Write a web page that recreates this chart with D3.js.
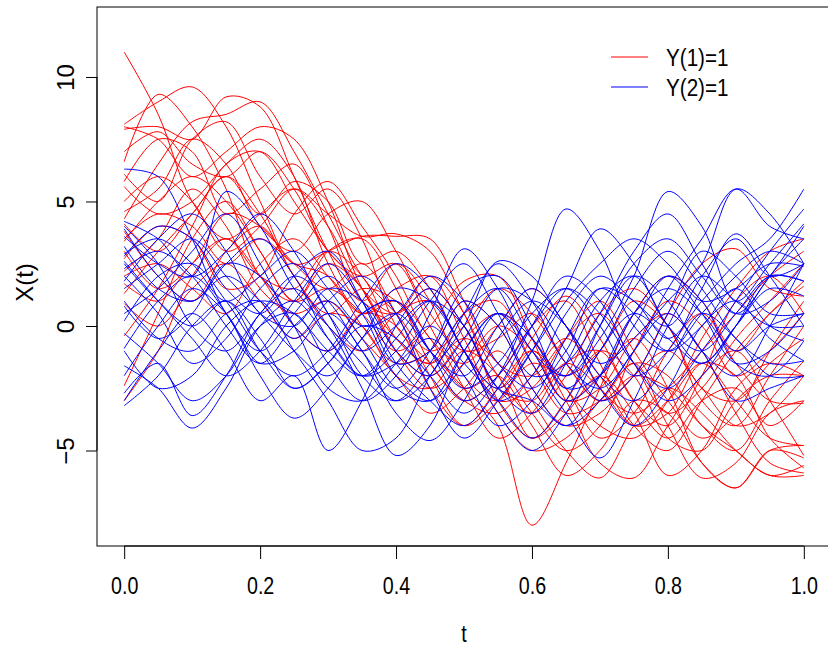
<!DOCTYPE html>
<html>
<head>
<meta charset="utf-8">
<script src="https://cdn.jsdelivr.net/npm/d3@7"></script>
<style>
    body { margin: 0; background: #fff; }
    svg { display: block; font-family: "Liberation Sans", Arial, sans-serif; }
</style>
</head>
<body>
<div id="chart"></div>
<script>
// sample grid of t used for every curve
const tValues = d3.range(0, 21).map(i => i / 20);

const xTicks = [0, 0.2, 0.4, 0.6, 0.8, 1.0];
const yTicks = [-5, 0, 5, 10];
const legendLabels = ["Y(1)=1", "Y(2)=1"];

// curves of group Y(1)=1 (red), values read at t = 0, 0.05, ..., 1
const redSeries = [
    [11.0, 8.5, 5.0, 3.5, 4.5, 5.5, 4.0, 1.5, 0.5, 1.5, 0.0, -2.5, -3.0, -1.5, -2.5, -4.0, -3.0, -1.5, -3.0, -4.5, -4.8],
    [8.1, 9.0, 9.6, 8.0, 5.0, 2.5, 3.0, 3.6, 3.6, 3.5, 1.0, -1.5, -2.0, -0.5, 0.5, -1.5, -3.5, -2.5, -0.5, 1.0, 2.5],
    [7.9, 8.0, 7.5, 9.2, 8.8, 6.0, 3.0, 1.0, 2.5, 1.0, -2.0, -3.0, -1.0, -2.5, -4.5, -3.5, -1.0, 0.5, -1.5, -3.0, -3.1],
    [6.6, 9.3, 8.0, 5.5, 2.0, 1.0, 2.5, 1.5, -1.0, -2.5, -1.5, 0.0, -1.0, -3.0, -2.5, -0.5, 0.5, -1.0, -3.5, -5.5, -5.9],
    [6.1, 5.0, 7.5, 8.2, 6.0, 4.5, 5.5, 3.5, 0.0, -1.5, -3.0, -2.0, 0.0, 1.0, -1.5, -4.0, -5.0, -3.0, -1.0, 0.5, 1.8],
    [5.8, 7.5, 7.0, 4.5, 5.5, 6.5, 4.0, 1.0, 0.5, 2.0, 0.5, -3.0, -4.5, -3.5, -2.0, -3.5, -6.0, -5.0, -2.5, -1.5, -2.0],
    [5.6, 4.5, 5.0, 6.5, 7.5, 6.0, 2.5, 0.5, 1.0, -0.5, -2.5, -2.0, -4.0, -6.0, -5.0, -3.0, -3.5, -5.5, -6.5, -5.0, -5.3],
    [4.3, 6.5, 8.2, 8.5, 9.0, 7.0, 4.5, 2.0, 0.5, -1.0, 0.0, 1.5, 0.5, -1.5, -3.0, -2.0, 0.5, 2.5, 3.1, 1.5, 1.2],
    [4.1, 3.0, 4.5, 6.0, 4.5, 5.8, 5.0, 2.5, 3.0, 1.5, -1.0, -2.5, -0.5, 1.2, -0.5, -3.0, -4.5, -3.0, -2.5, -4.0, -3.0],
    [3.8, 2.0, 1.0, 3.0, 4.0, 2.0, 0.0, -1.0, 0.5, 1.0, -1.0, -3.5, -5.0, -4.5, -3.0, -1.5, -2.0, -4.0, -5.0, -3.0, -1.4],
    [3.4, 5.0, 6.0, 5.0, 3.0, 1.0, 3.0, 3.5, 1.5, -1.5, -3.0, -3.5, -2.0, -0.5, -2.0, -4.0, -3.5, -1.5, -2.0, -4.5, -5.7],
    [3.0, 1.5, 2.5, 4.5, 4.0, 2.5, 1.5, 2.5, 0.5, -2.0, -4.0, -3.0, -1.5, -2.0, -1.0, 1.0, 0.0, -3.0, -4.0, -2.0, 0.0],
    [2.7, 4.0, 3.5, 1.5, 2.0, 4.5, 5.8, 4.0, 2.0, -0.5, -1.5, 0.0, 1.5, 0.0, -2.5, -3.5, -2.5, -1.0, 0.5, 2.0, 3.0],
    [2.2, 3.5, 5.5, 4.0, 1.5, 0.5, 1.0, -0.5, -2.0, -3.5, -2.5, -1.0, -3.0, -5.0, -6.1, -4.0, -2.5, -3.5, -5.0, -6.0, -6.0],
    [1.7, 1.0, 2.5, 3.5, 2.0, 1.5, 3.0, 2.0, -0.5, -1.5, 0.5, 1.0, -1.5, -3.5, -3.0, -1.5, -4.0, -6.1, -5.5, -3.5, -3.0],
    [1.3, 3.0, 4.5, 6.0, 4.5, 2.0, 0.5, 1.5, 1.0, -1.0, -2.5, -4.0, -8.0, -5.5, -2.5, 0.5, 2.0, 1.0, -1.0, 0.5, 1.6],
    [0.9, 0.0, 1.5, 2.5, 1.0, -0.5, 0.5, 0.0, -2.0, -2.5, -1.0, -2.0, -4.5, -3.0, -1.0, -2.0, -4.5, -5.0, -3.0, -2.0, -2.0],
    [-0.4, 1.5, 4.0, 6.5, 7.0, 5.0, 3.0, 1.5, -1.0, -2.0, -0.5, 0.5, -0.5, -2.5, -4.0, -4.5, -3.0, -0.5, 1.5, 3.0, 3.5],
    [-2.4, 0.5, 3.5, 5.0, 3.0, 1.0, 1.5, 0.5, -1.0, 0.0, 1.8, 2.0, -0.5, -3.0, -2.0, -0.5, -2.5, -5.5, -6.5, -5.0, -4.8],
    [-3.0, -1.0, 2.0, 3.5, 2.0, 0.0, -1.0, 0.5, 0.0, -2.5, -4.0, -2.5, -1.0, -3.0, -5.5, -6.1, -4.0, -2.0, -1.0, -3.0, -5.2],
    [5.0, 6.0, 5.0, 3.0, 4.0, 5.5, 4.5, 3.6, 3.7, 3.0, 0.5, -2.0, -3.5, -2.0, 0.5, 1.5, 0.0, -2.5, -3.0, -1.5, -0.5],
    [7.0, 7.8, 6.5, 6.0, 7.0, 5.5, 3.0, 2.0, 2.5, 0.0, -2.5, -4.5, -3.5, -1.5, -1.0, -3.0, -4.0, -2.0, 1.0, 2.0, 0.5],
    [3.5, 4.5, 4.0, 2.5, 3.5, 2.5, 2.0, 0.0, -1.5, -1.0, 1.0, 0.0, -2.5, -4.0, -3.5, -2.0, -1.0, -2.5, -4.0, -3.5, -2.0],
    [8.0, 7.5, 6.0, 7.0, 8.0, 7.5, 5.0, 1.5, -0.5, -1.5, -0.5, -1.5, -3.5, -5.0, -4.0, -1.0, 1.0, 0.0, -2.0, -1.0, 0.5],
    [2.0, 2.5, 1.5, 0.5, 2.5, 3.5, 2.0, 0.5, 1.5, 2.0, -0.5, -3.0, -2.5, -0.5, 1.0, -1.0, -3.0, -4.5, -3.5, -1.0, 1.0],
    [4.6, 5.5, 7.5, 6.5, 4.0, 3.0, 4.5, 5.0, 3.0, 0.5, -1.0, -0.5, 0.5, -1.5, -3.0, -2.0, -2.5, -4.0, -5.0, -6.0, -5.6]
];

// curves of group Y(2)=1 (blue)
const blueSeries = [
    [6.3, 6.0, 3.5, 0.5, -1.0, 0.5, 2.0, 0.5, -2.0, -3.0, -1.5, 0.5, -0.5, -2.5, -1.0, 1.5, 3.0, 1.5, -0.5, -1.5, -1.4],
    [4.2, 3.5, 2.0, 3.0, 4.5, 3.0, 0.5, -1.0, 0.0, 1.0, -1.0, -3.0, -2.0, 0.5, 2.0, 1.0, 0.0, 2.0, 3.5, 2.0, 2.5],
    [3.6, 2.5, 2.0, 5.4, 4.0, 1.5, 0.0, -1.5, -3.0, -2.0, 0.5, 2.5, 1.0, -1.5, -2.5, -1.0, 1.5, 3.5, 5.5, 4.0, 3.5],
    [3.2, 1.5, 1.0, 2.0, 1.0, -0.5, 1.0, 2.0, 0.5, -2.5, -4.5, -3.0, -1.0, 1.5, 3.9, 2.5, 0.0, -1.0, 0.5, 2.0, 1.8],
    [2.8, 4.0, 3.5, 1.5, 0.5, 2.0, 3.0, 1.0, -1.5, -1.0, 1.0, 0.0, -2.5, -4.0, -2.0, 0.5, 1.5, 0.5, -1.0, 0.0, 0.5],
    [2.5, 1.0, 0.0, 1.0, -1.0, -2.5, -1.5, 0.0, -0.5, -2.0, -3.5, -2.0, 1.0, 4.7, 3.0, 0.0, -1.0, 0.5, 2.0, 3.0, 2.5],
    [2.3, 3.0, 2.0, 0.0, -1.5, 0.0, 1.0, -0.5, -2.5, -3.0, -1.0, 0.5, -1.5, -3.5, -5.3, -3.0, 0.0, 2.0, 1.0, 0.0, 0.0],
    [2.0, 0.5, -1.5, -0.5, 1.5, 2.5, 0.5, -2.0, -3.0, -1.5, 0.5, 1.5, -0.5, -2.0, -0.5, 2.0, 5.4, 4.0, 1.0, 2.5, 4.1],
    [1.5, 2.5, 3.5, 2.0, 0.5, -1.0, -2.0, -0.5, 1.5, 1.0, -1.0, -3.5, -5.0, -3.5, -1.0, 0.5, -0.5, -1.5, 0.0, 1.5, 1.2],
    [1.0, -0.5, -1.0, 0.5, 1.0, -1.0, -3.0, -5.0, -4.5, -2.0, 0.0, 2.6, 2.0, 0.0, -1.5, -0.5, 1.0, 2.5, 5.5, 4.5, 2.5],
    [0.5, 1.5, 3.0, 4.5, 2.5, 0.0, -1.0, 0.5, 1.0, -1.0, -3.0, -2.0, 0.0, 1.5, 0.5, -1.5, -2.5, -1.0, 1.0, 3.0, 4.7],
    [-0.3, -1.5, -3.0, -2.0, 0.0, 0.5, -1.5, -3.0, -2.0, 0.5, 3.1, 1.5, -1.0, -2.0, 0.0, 2.0, 1.0, -1.0, -2.0, 0.0, 2.5],
    [-0.9, 1.0, 2.0, 0.5, -2.0, -3.7, -2.5, -0.5, 0.5, -1.0, -2.5, -1.5, 0.5, 1.5, 0.0, -2.0, -1.0, 1.5, 3.7, 2.0, 0.0],
    [-1.6, -2.5, -4.1, -2.5, 0.0, 1.0, -0.5, -2.0, -1.5, -0.5, -2.0, -4.0, -3.0, -0.5, 1.5, 0.5, -1.0, 0.0, 1.5, 0.0, -0.6],
    [-2.0, 0.0, 1.5, 0.5, -1.5, -1.0, 0.5, -1.0, -3.5, -4.6, -3.0, -0.5, 1.0, 0.0, -2.0, -3.0, -1.5, 0.5, -0.5, -2.0, -2.0],
    [-2.7, -1.5, -3.6, -2.0, 0.5, 1.5, 0.0, -2.5, -5.2, -4.0, -1.0, 0.5, -1.0, -3.0, -2.0, 0.5, 2.0, 0.5, -1.5, -1.0, 0.5],
    [-3.0, -1.0, 0.5, -1.0, -3.0, -2.0, -5.0, -3.0, 0.0, 1.5, 0.0, -2.5, -3.5, -1.5, 1.0, 2.0, 0.0, -1.5, 0.0, 2.0, 3.5],
    [-3.2, -2.0, 0.0, 1.0, -0.5, -2.5, -1.5, 0.5, 1.0, -1.0, -2.0, 0.0, 1.5, 0.0, -2.5, -4.0, -2.5, 0.0, 1.0, -0.5, -1.4],
    [3.9, 2.0, 1.0, 2.5, 3.5, 2.0, -0.5, -2.0, -1.0, 1.0, 2.5, 0.5, -2.0, -1.5, 0.5, 3.0, 4.5, 2.5, 0.5, 1.0, 2.5],
    [2.6, 1.0, -0.5, -2.0, -1.0, 1.0, 2.5, 1.0, -1.5, -3.0, -4.0, -2.5, 0.0, 2.0, 1.0, -1.5, -3.0, -2.0, 0.0, 2.0, 1.8],
    [1.8, 3.5, 4.5, 3.0, 0.5, 0.0, 1.5, 1.0, -1.0, -2.0, -0.5, 1.5, 1.0, -1.0, -3.0, -2.0, 0.5, 3.0, 2.0, 0.5, 0.5],
    [0.8, -0.5, 0.5, 2.5, 2.0, 0.0, -2.5, -3.0, -1.5, 0.0, -1.5, -3.0, -4.5, -3.0, 0.0, 2.5, 3.5, 2.0, 0.5, 2.0, 4.0],
    [4.0, 2.5, 0.0, -1.0, 0.5, 2.0, 1.0, -1.0, -2.5, -1.0, 1.5, 2.0, 0.0, -2.5, -2.0, 0.0, 2.0, 1.0, -1.5, -2.0, -0.6],
    [2.9, 3.5, 2.5, 1.0, 2.0, 3.0, 1.5, 0.0, 0.5, 2.0, 1.0, -1.5, -2.5, -1.0, 1.5, 1.0, -0.5, 1.0, 2.5, 3.5, 5.5],
    [-1.0, -2.5, -2.0, 0.0, 1.0, 0.5, -1.0, -2.0, -0.5, 1.0, 0.0, -2.5, -3.0, -4.0, -3.0, -1.0, 0.5, -1.0, -3.0, -2.5, -2.0],
    [0.2, 2.0, 2.5, 1.0, -1.0, -2.0, -1.0, 1.0, 2.5, 1.5, -1.0, -2.5, -1.0, 1.0, 2.5, 3.5, 2.5, 1.0, 1.5, 2.5, 2.4]
];

const width = 828, height = 648;
const box = { left: 97, top: 7, right: 831, bottom: 546 };
const colors = ["#ff0000", "#0000ff"];

const svg = d3.select("#chart").append("svg")
    .attr("width", width)
    .attr("height", height);

// R style: 4% padding around the data range
const x = d3.scaleLinear().domain([-0.04, 1.04]).range([box.left, box.right]);
const y = d3.scaleLinear().domain([-8.835, 12.81]).range([box.bottom, box.top]);

svg.append("clipPath").attr("id", "plotClip")
    .append("rect")
    .attr("x", box.left).attr("y", box.top)
    .attr("width", box.right - box.left)
    .attr("height", box.bottom - box.top);

const line = d3.line()
    .x((d, i) => x(tValues[i]))
    .y(d => y(d))
    .curve(d3.curveCatmullRom.alpha(0.5));

const plot = svg.append("g").attr("clip-path", "url(#plotClip)");

[redSeries, blueSeries].forEach((group, gi) => {
    plot.selectAll(".curve-" + gi)
        .data(group)
        .enter()
        .append("path")
        .attr("class", "curve-" + gi)
        .attr("d", line)
        .attr("fill", "none")
        .attr("stroke", colors[gi])
        .attr("stroke-width", 1);
});

// frame
svg.append("rect")
    .attr("x", box.left).attr("y", box.top)
    .attr("width", box.right - box.left)
    .attr("height", box.bottom - box.top)
    .attr("fill", "none")
    .attr("stroke", "#000")
    .attr("stroke-width", 1);

// bottom axis
const xAxis = svg.append("g")
    .attr("transform", `translate(0,${box.bottom})`)
    .call(d3.axisBottom(x).tickValues(xTicks).tickFormat(d3.format(".1f")).tickSize(13).tickSizeOuter(0));
xAxis.select(".domain").attr("d", `M${x(0)},0H${x(1)}`).attr("stroke", "#000");
xAxis.selectAll(".tick line").attr("stroke", "#000");
xAxis.selectAll(".tick text")
    .attr("y", 48).attr("dy", 0)
    .attr("transform", "scale(0.82,1)")
    .attr("fill", "#000")
    .style("font-family", "'Liberation Sans', Arial, sans-serif")
    .style("font-size", "24px");

// left axis, labels turned like R's default
const yAxis = svg.append("g")
    .attr("transform", `translate(${box.left},0)`)
    .call(d3.axisLeft(y).tickValues(yTicks).tickSize(11).tickSizeOuter(0));
yAxis.select(".domain").attr("d", `M0,${y(-5)}V${y(10)}`).attr("stroke", "#000");
yAxis.selectAll(".tick line").attr("stroke", "#000");
yAxis.selectAll(".tick text")
    .attr("x", 0).attr("dy", 0)
    .attr("text-anchor", "middle")
    .attr("transform", "translate(-23,0) rotate(-90)")
    .attr("fill", "#000")
    .style("font-family", "'Liberation Sans', Arial, sans-serif")
    .style("font-size", "24px");

// axis titles
svg.append("text")
    .attr("transform", `translate(${(box.left + box.right) / 2},642) scale(0.82,1)`)
    .attr("text-anchor", "middle")
    .style("font-size", "24px")
    .text("t");

svg.append("text")
    .attr("transform", `translate(33,${(box.top + box.bottom) / 2 + 6}) rotate(-90)`)
    .attr("text-anchor", "middle")
    .style("font-size", "24px")
    .text("X(t)");

// legend
const legend = svg.append("g").attr("transform", "translate(611,57)");
legendLabels.forEach((label, i) => {
    const row = legend.append("g").attr("transform", `translate(0,${i * 30})`);
    row.append("line")
        .attr("x1", 0).attr("x2", 37)
        .attr("y1", 0).attr("y2", 0)
        .attr("stroke", colors[i])
        .attr("stroke-width", 1);
    row.append("text")
        .attr("transform", "translate(55,9) scale(0.86,1)")
        .style("font-size", "24px")
        .text(label);
});
</script>
</body>
</html>
